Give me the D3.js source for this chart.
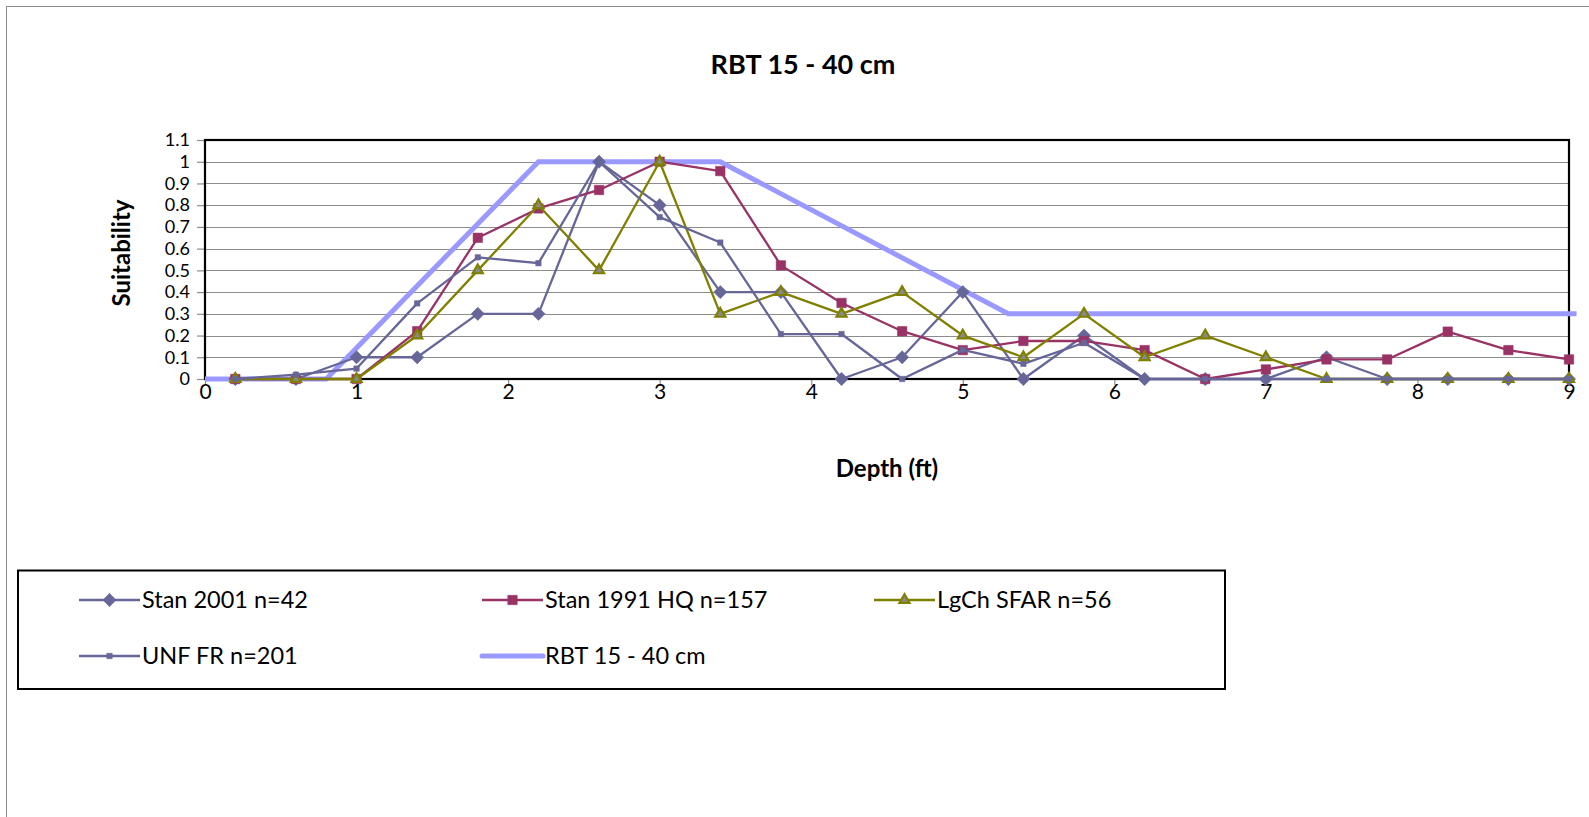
<!DOCTYPE html>
<html><head><meta charset="utf-8">
<script src="https://cdn.jsdelivr.net/npm/d3@7"></script>
<style>
body{margin:0;background:#fff}
svg{display:block}
text{font-family:Lato,"Open Sans",sans-serif;fill:#000}
</style>
</head><body>
<svg id="c" width="1589" height="817"></svg>
<script>
// ---- data ----
const depths   = [0.2,0.6,1.0,1.4,1.8,2.2,2.6,3.0,3.4,3.8,4.2,4.6,5.0,5.4,5.8,6.2,6.6,7.0,7.4,7.8,8.2,8.6,9.0];
const stan2001 = [0,0,0.1,0.1,0.3,0.3,1.0,0.8,0.4,0.4,0,0.1,0.4,0,0.2,0,0,0,0.1,0,0,0,0];
const stan1991 = [0,0,0,0.22,0.65,0.785,0.87,1.0,0.957,0.523,0.35,0.22,0.133,0.175,0.175,0.133,0,0.044,0.09,0.09,0.218,0.133,0.09];
const lgchSfar = [0,0,0,0.2,0.5,0.8,0.5,1.0,0.3,0.4,0.3,0.4,0.2,0.1,0.3,0.1,0.2,0.1,0,0,0,0,0];
const unfFr    = [0,0.02,0.048,0.348,0.56,0.533,1.0,0.745,0.628,0.207,0.207,0,0.134,0.07,0.167,0,0,0,0,0,0,0,0];
const rbtX     = [0,0.8,2.2,3.4,5.3,9.05];
const rbtY     = [0,0,1,1,0.3,0.3];
const xTicks   = [0,1,2,3,4,5,6,7,8,9];
const yTicks   = [0,0.1,0.2,0.3,0.4,0.5,0.6,0.7,0.8,0.9,1.0,1.1];
const seriesNames = ["Stan 2001 n=42","Stan 1991 HQ n=157","LgCh SFAR n=56","UNF FR n=201","RBT 15 - 40 cm"];
const chartTitle = "RBT 15 - 40 cm";

// ---- layout ----
const svg = d3.select("#c");
const L=205, R=1569, T=140, B=379;
const x = d3.scaleLinear([0,9],[L,R]);
const y = d3.scaleLinear([0,1.1],[B,T]);

// chart area border
svg.append("rect").attr("x",6.5).attr("y",6.5).attr("width",1700).attr("height",1000)
  .attr("fill","#fff").attr("stroke","#8c8c8c").attr("stroke-width",1);

// title
svg.append("text").attr("x",803).attr("y",74).attr("text-anchor","middle")
  .style("font-weight","bold").style("font-size","27px").text(chartTitle);

// gridlines
svg.append("g").selectAll("line").data(yTicks.filter(v=>v>0 && v<1.05)).join("line")
  .attr("x1",L).attr("x2",R).attr("y1",d=>Math.round(y(d))+0.5).attr("y2",d=>Math.round(y(d))+0.5)
  .attr("stroke","#8c8c8c").attr("stroke-width",1.2);

// axes
const fmt = d => String(+d.toFixed(1));
const yAxis = svg.append("g").attr("transform",`translate(${L},0)`)
  .call(d3.axisLeft(y).tickValues(yTicks).tickSize(8).tickPadding(7).tickFormat(fmt));
const xAxis = svg.append("g").attr("transform",`translate(0,${B})`)
  .call(d3.axisBottom(x).tickValues(xTicks).tickSize(6).tickFormat(fmt));
[yAxis,xAxis].forEach(g=>{
  g.select(".domain").remove();
  g.selectAll(".tick line").attr("stroke","#8c8c8c").attr("stroke-width",1.2);
  g.selectAll(".tick text").style("font-family","Lato,'Open Sans',sans-serif").attr("fill","#000");
});
yAxis.selectAll(".tick text").style("font-size","18px");
xAxis.selectAll(".tick text").style("font-size","21px").attr("y",5.5);

// plot border
svg.append("rect").attr("x",L).attr("y",T).attr("width",R-L).attr("height",B-T)
  .attr("fill","none").attr("stroke","#000").attr("stroke-width",2.2);

// axis titles
svg.append("text").attr("x",887).attr("y",477).attr("text-anchor","middle")
  .style("font-weight","bold").style("font-size","24px").text("Depth (ft)");
svg.append("text").attr("transform","translate(130,253) rotate(-90)").attr("text-anchor","middle")
  .style("font-weight","bold").style("font-size","24px").text("Suitability");

// series definitions
const colors = ["#666699","#993366","#808000","#666699","#9999FF"];
const diamond = d3.symbol().type(d3.symbolSquare).size(88);
const square  = d3.symbol().type(d3.symbolSquare).size(90);
const tri     = d3.symbol().type(d3.symbolTriangle).size(44);
const smallSq = d3.symbol().type(d3.symbolSquare).size(30);
const series = [
  {vals:stan2001, color:colors[0], sym:diamond, rot:45, fill:colors[0], stroke:colors[0], sw:0.5},
  {vals:stan1991, color:colors[1], sym:square,  rot:0,  fill:colors[1], stroke:colors[1], sw:0.5},
  {vals:lgchSfar, color:colors[2], sym:tri,     rot:0,  fill:"#8a8a8a", stroke:colors[2], sw:2.2},
  {vals:unfFr,    color:colors[3], sym:smallSq, rot:0,  fill:colors[3], stroke:colors[3], sw:0.5}
];
const line = d3.line().x(d=>x(d[0])).y(d=>y(d[1]));

const plot = svg.append("g");
// RBT reference curve (behind)
plot.append("path").datum(d3.zip(rbtX,rbtY)).attr("d",line)
  .attr("fill","none").attr("stroke",colors[4]).attr("stroke-width",5).attr("stroke-linejoin","miter");

series.forEach(s=>{
  const pts = d3.zip(depths, s.vals);
  const g = plot.append("g");
  g.append("path").datum(pts).attr("d",line).attr("fill","none")
    .attr("stroke",s.color).attr("stroke-width",2.3).attr("stroke-linejoin","round");
  g.selectAll("path.m").data(pts).join("path").attr("class","m")
    .attr("d",s.sym()).attr("transform",d=>`translate(${x(d[0])},${y(d[1])}) rotate(${s.rot})`)
    .attr("fill",s.fill).attr("stroke",s.stroke).attr("stroke-width",s.sw);
});

// legend
svg.append("rect").attr("x",18).attr("y",570.5).attr("width",1207).attr("height",118.5)
  .attr("fill","#fff").attr("stroke","#000").attr("stroke-width",2);
const legPos = [[79,600],[482,600],[874,600],[79,656],[482,656]];
seriesNames.forEach((name,i)=>{
  const [lx,ly] = legPos[i];
  const g = svg.append("g");
  if(i<4){
    const s = series[i];
    g.append("line").attr("x1",lx).attr("x2",lx+61).attr("y1",ly).attr("y2",ly)
      .attr("stroke",s.color).attr("stroke-width",2.3);
    g.append("path").attr("d",s.sym()).attr("transform",`translate(${lx+30.5},${ly}) rotate(${s.rot})`)
      .attr("fill",s.fill).attr("stroke",s.stroke).attr("stroke-width",s.sw);
  } else {
    g.append("line").attr("x1",lx).attr("x2",lx+61).attr("y1",ly).attr("y2",ly)
      .attr("stroke",colors[4]).attr("stroke-width",5).attr("stroke-linecap","round");
  }
  g.append("text").attr("x",lx+63).attr("y",ly+8).style("font-size","23.5px").text(name);
});
</script>
</body></html>
